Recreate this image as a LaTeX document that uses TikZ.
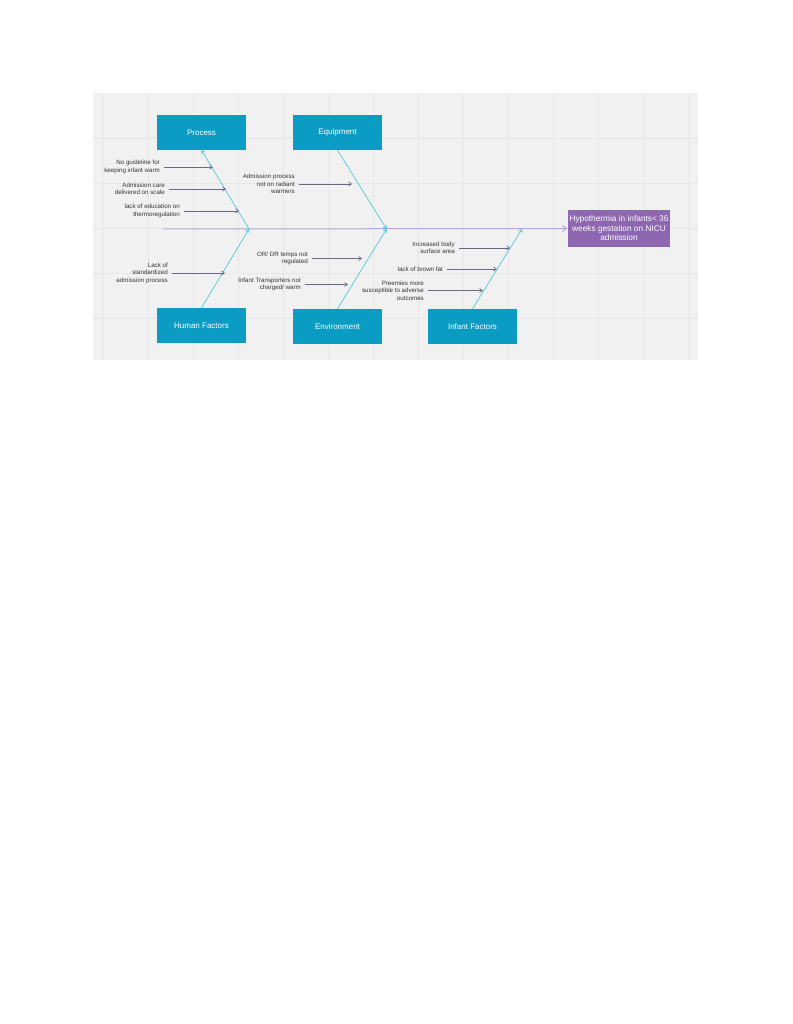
\documentclass[tikz,border=0pt]{standalone}
\usepackage{fontspec}
\setsansfont{Liberation Sans}
\usepackage{xcolor}
\usepackage{tikz}
\usetikzlibrary{arrows.meta,positioning,calc}
\definecolor{fbcyan}{HTML}{0A9CC3}
\definecolor{fbbone}{HTML}{3CC4DC}
\definecolor{fbpurple}{HTML}{8E67B1}
\definecolor{fbspine}{HTML}{B7A8DA}
\definecolor{fbarrow}{HTML}{6A6888}
\definecolor{fbpanel}{HTML}{F1F1F1}
\definecolor{fbgrid}{HTML}{E7E7E7}
\definecolor{fbtext}{HTML}{333333}

\begin{document}
\begin{tikzpicture}[
 x=1pt,y=-1pt,font=\sffamily,
 cat/.style={fill=fbcyan,text=white,minimum width=89pt,minimum height=35pt,inner sep=2pt,font=\sffamily\fontsize{8}{9.5}\selectfont},
 effect/.style={fill=fbpurple,text=white,minimum width=102pt,minimum height=37pt,align=center,inner sep=2pt,font=\sffamily\fontsize{8.3}{9.5}\selectfont},
 note/.style={anchor=east,align=right,inner sep=1.5pt,text=fbtext,font=\sffamily\fontsize{6.2}{7.5}\selectfont},
 bone/.style={fbbone,line width=0.6pt,-{Straight Barb[length=3pt,width=4pt]}},
 spine/.style={fbspine,line width=1pt,-{Straight Barb[length=4pt,width=6pt]}},
 cause/.style={fbarrow,line width=0.6pt,-{Straight Barb[length=3pt,width=4pt]}}
]
\useasboundingbox[fill=white] (0,0) rectangle (792,1024);
% panel and grid
\fill[fbpanel] (93,93) rectangle (698,360);
\foreach \gx in {103,148,...,688}
 \draw[fbgrid,line width=0.5pt] (\gx,93) -- (\gx,360);
\foreach \gy in {138,183,228,273,318}
 \draw[fbgrid,line width=0.5pt] (93,\gy) -- (698,\gy);

% categories and effect
\node[cat] (process) at (201.5,132.5) {Process};
\node[cat] (equip) at (337.5,132.5) {Equipment};
\node[cat] (human) at (201.5,325.5) {Human Factors};
\node[cat] (environ) at (337.5,326.5) {Environment};
\node[cat] (infant) at (472.5,326.5) {Infant Factors};
\node[effect] (hypo) at (619,228.5) {Hypothermia in infants< 36\\weeks gestation on NICU\\admission};

% spine
\coordinate (tail) at (163,229);
\draw[spine] (tail) -- (hypo.west);

% bones
\coordinate (pj) at (249,229);
\coordinate (ej) at (386.5,229);
\coordinate (ij) at (522,229);
\draw[bone] (pj) -- (process.south);
\draw[bone] (equip.south) -- (ej);
\draw[bone] (human.north) -- (pj);
\draw[bone] (environ.north) -- (ej);
\draw[bone] (infant.north) -- (ij);

% causes
\node[note] (guide) at (161.5,167) {No guideline for\\keeping infant warm};
\node[note] (scale) at (166.5,189) {Admission care\\delivered on scale};
\node[note] (educ) at (181.5,211) {lack of education on\\thermoregulation};
\node[note] (radiant) at (296.5,184) {Admission process\\not on radiant\\warmers};
\node[note] (stand) at (169.5,273) {Lack of\\standardized\\admission process};
\node[note] (temps) at (309.5,258.5) {OR/ DR temps not\\regulated};
\node[note] (transp) at (302.5,284.5) {Infant Transporters not\\charged/ warm};
\node[note] (surface) at (456.5,248) {Increased body\\surface area};
\node[note] (brown) at (444.5,269) {lack of brown fat};
\node[note] (preem) at (425.5,290.5) {Preemies more\\susceptible to adverse\\outcomes};

\coordinate (c1) at (213,167);
\coordinate (c2) at (226,189);
\coordinate (c3) at (239,211);
\coordinate (c4) at (352,184);
\coordinate (c5) at (225,273);
\coordinate (c6) at (362,258.5);
\coordinate (c7) at (348,284.5);
\coordinate (c8) at (510,248);
\coordinate (c9) at (497,269);
\coordinate (c10) at (483,290.5);
\foreach \a/\b in {guide/c1,scale/c2,educ/c3,radiant/c4,stand/c5,temps/c6,transp/c7,surface/c8,brown/c9,preem/c10}
 \draw[cause] ([xshift=2pt]\a.east) -- (\b);
\end{tikzpicture}
\end{document}
